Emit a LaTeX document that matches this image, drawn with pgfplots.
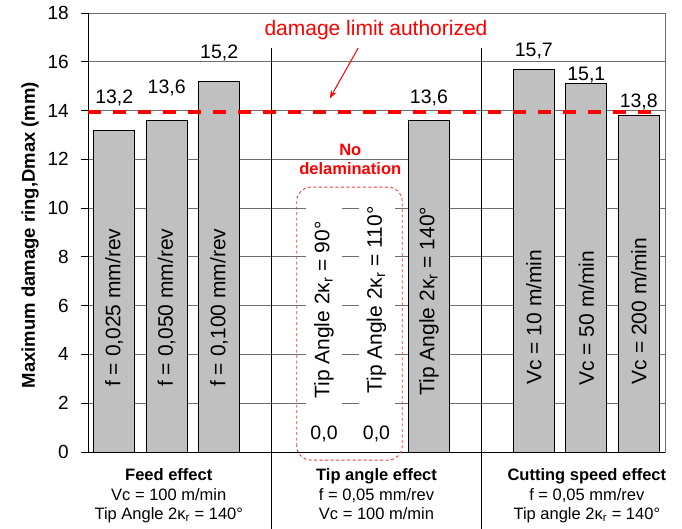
\documentclass[border=0pt]{standalone}
\usepackage{pgfplots}
\pgfplotsset{compat=1.18}
\usepackage{fontspec}
\setmainfont{Liberation Sans}
\usetikzlibrary{arrows.meta}

\definecolor{barfill}{HTML}{C0C0C0}
\definecolor{gridc}{HTML}{6E6E6E}
\definecolor{limred}{HTML}{FF0000}

\begin{document}
\begin{tikzpicture}
\useasboundingbox (-88pt,-76pt) rectangle (594pt,452pt);
\begin{axis}[
  at={(0pt,0pt)}, anchor=south west,
  scale only axis, width=577pt, height=439pt,
  xmin=-0.5, xmax=10.5, ymin=0, ymax=18,
  xtick=\empty,
  ytick={0,2,...,18},
  ytick pos=left, tick align=outside, major tick length=7pt,
  ymajorgrids, grid style={gridc, line width=0.9pt},
  axis line style={gridc, line width=0.9pt},
  tick style={black, line width=0.9pt},
  /pgf/number format/assume math mode=true,
  yticklabel style={font=\fontsize{19}{19}\selectfont, anchor=east, inner sep=0pt, xshift=-12pt},
  ylabel={\bfseries Maximum damage ring,Dmax (mm)},
  ylabel style={font=\fontsize{18.5}{20}\selectfont, at={(axis description cs:-0.1005,0.494)}, anchor=center},
  clip=false,
]
\addplot[ybar, bar width=41pt, bar shift=0pt, fill=barfill, draw=black, line width=0.8pt]
  coordinates {(0,13.2) (1,13.6) (2,15.2) (4,0) (5,0) (6,13.6) (8,15.7) (9,15.1) (10,13.8)};

% axis lines left and bottom in black
\draw[black, line width=0.9pt] (rel axis cs:0,1) -- (rel axis cs:0,0) -- (rel axis cs:1,0);
% group separators
\draw[black, line width=0.9pt] (axis cs:3,16.56) -- (axis cs:3,-3.3);
\draw[black, line width=0.9pt] (axis cs:7,16.56) -- (axis cs:7,-3.3);

% texts inside bars
\begin{scope}[every node/.style={rotate=90, font=\fontsize{21}{21}\selectfont}]
\node at (axis cs:0,5.92) {f = 0,025 mm/rev};
\node at (axis cs:1,5.92) {f = 0,050 mm/rev};
\node at (axis cs:2,5.92) {f = 0,100 mm/rev};
\node[fill=white, minimum width=225pt, minimum height=36pt, inner sep=0pt] at (axis cs:4,5.82) {Tip Angle 2κ\textsubscript{r} = 90°};
\node[fill=white, minimum width=225pt, minimum height=36pt, inner sep=0pt] at (axis cs:5,6.23) {Tip Angle 2κ\textsubscript{r} = 110°};
\node at (axis cs:6,6.19) {Tip Angle 2κ\textsubscript{r} = 140°};
\node at (axis cs:8,5.53) {Vc = 10 m/min};
\node at (axis cs:9,5.49) {Vc = 50 m/min};
\node at (axis cs:10,5.78) {Vc = 200 m/min};
\end{scope}

% damage limit line
\addplot[limred, line width=3.5pt, dash pattern=on 13pt off 12pt] coordinates {(-0.5,13.95) (10.37,13.95)};

% value labels
\begin{scope}[every node/.style={font=\fontsize{19.5}{20}\selectfont}]
\node at (axis cs:0,14.5) {13,2};
\node at (axis cs:1,14.94) {13,6};
\node at (axis cs:2,16.35) {15,2};
\node at (axis cs:4,0.74) {0,0};
\node at (axis cs:5,0.74) {0,0};
\node at (axis cs:6,14.53) {13,6};
\node at (axis cs:8,16.44) {15,7};
\node at (axis cs:9,15.45) {15,1};
\node at (axis cs:10,14.36) {13,8};
\end{scope}

% annotations
\node[limred, font=\fontsize{21}{21}\selectfont] at (axis cs:4.99,17.3) {damage limit authorized};
\draw[limred, line width=1pt, -{Stealth[length=8pt,width=6pt]}] (axis cs:4.65,16.56) -- (axis cs:4.11,14.5);
\node[limred, font=\bfseries\fontsize{16.5}{19}\selectfont, align=center] at (axis cs:4.5,12.0) {No\\delamination};
\draw[limred!80, dash pattern=on 3pt off 2.5pt, line width=0.9pt, rounded corners=14pt] (axis cs:3.48,-0.33) rectangle (axis cs:5.49,10.86);

% group descriptions
\begin{scope}[every node/.style={font=\fontsize{16.5}{19}\selectfont, anchor=base}]
\node at (axis cs:1.04,-1.15) {\bfseries Feed effect};
\node at (axis cs:1.04,-1.97) {Vc = 100 m/min};
\node at (axis cs:1.04,-2.75) {Tip Angle 2κ\textsubscript{r} = 140°};
\node at (axis cs:5.0,-1.15) {\bfseries Tip angle effect};
\node at (axis cs:5.0,-1.97) {f = 0,05 mm/rev};
\node at (axis cs:5.0,-2.75) {Vc = 100 m/min};
\node at (axis cs:9.01,-1.15) {\bfseries Cutting speed effect};
\node at (axis cs:9.01,-1.97) {f = 0,05 mm/rev};
\node at (axis cs:9.01,-2.75) {Tip angle 2κ\textsubscript{r} = 140°};
\end{scope}
\end{axis}
\end{tikzpicture}
\end{document}
